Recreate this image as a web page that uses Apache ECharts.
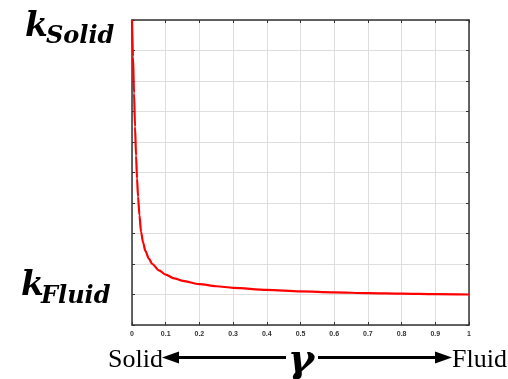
<!DOCTYPE html>
<html>
<head>
<meta charset="utf-8">
<script src="https://cdn.jsdelivr.net/npm/echarts@6/dist/echarts.min.js"></script>
<style>
  html, body { margin: 0; padding: 0; background: #fff; }
  #chart { width: 508px; height: 379px; }
</style>
</head>
<body>
<div id="chart"></div>
<script>
// gamma (x) and conductivity k (y, k_Fluid = 1, k_Solid = 10)
const gammaValues = [0, 0.003, 0.006, 0.009, 0.012, 0.015, 0.018, 0.022, 0.027, 0.033, 0.04, 0.05, 0.06, 0.08, 0.1,
  0.125, 0.15, 0.2, 0.25, 0.3, 0.4, 0.5, 0.6, 0.7, 0.8, 0.9, 1];
const kValues = [10, 8.8, 7.6, 6.5, 5.55, 4.8, 4.2, 3.6, 3.05, 2.7, 2.42, 2.18, 2.0, 1.79, 1.65,
  1.53, 1.45, 1.34, 1.27, 1.22, 1.15, 1.1, 1.07, 1.045, 1.03, 1.015, 1.0];
const xTickLabels = ['0', '0.1', '0.2', '0.3', '0.4', '0.5', '0.6', '0.7', '0.8', '0.9', '1'];

const chart = echarts.init(document.getElementById('chart'));

const axisLine = { show: true, onZero: false, lineStyle: { color: '#333', width: 1.5 } };
const axisTick = { show: true, inside: true, length: 3, lineStyle: { color: '#333', width: 1 } };
const splitLine = { show: true, lineStyle: { color: '#dedede', width: 1 } };

const option = {
  animation: false,
  grid: { left: 132, right: 39, top: 20, bottom: 54 },
  xAxis: [
    {
      type: 'value', min: 0, max: 1, interval: 0.1, position: 'bottom',
      axisLine, axisTick, splitLine,
      axisLabel: {
        margin: 6,
        fontSize: 7,
        fontWeight: 'bold',
        fontFamily: 'Liberation Sans',
        color: '#333',
        formatter: v => xTickLabels[Math.round(v * 10)]
      }
    },
    {
      type: 'value', min: 0, max: 1, interval: 0.1, position: 'top',
      axisLine, axisTick, splitLine: { show: false }, axisLabel: { show: false }
    }
  ],
  yAxis: [
    {
      type: 'value', min: 0, max: 10, interval: 1, position: 'left',
      axisLine, axisTick, splitLine, axisLabel: { show: false }
    },
    {
      type: 'value', min: 0, max: 10, interval: 1, position: 'right',
      axisLine, axisTick, splitLine: { show: false }, axisLabel: { show: false }
    }
  ],
  series: [
    {
      type: 'line',
      data: gammaValues.map((g, i) => [g, kValues[i]]),
      showSymbol: false,
      smooth: 0.3,
      smoothMonotone: 'x',
      lineStyle: { color: '#ff0000', width: 2.2 }
    }
  ],
  graphic: [
    // k_Solid
    { type: 'text', style: { text: 'k', x: 25, y: 27, textVerticalAlign: 'middle',
      font: 'italic bold 33px "DejaVu Serif"', fill: '#000' } },
    { type: 'text', style: { text: 'Solid', x: 46, y: 37, textVerticalAlign: 'middle',
      font: 'italic bold 24px "DejaVu Serif"', fill: '#000' } },
    // k_Fluid
    { type: 'text', style: { text: 'k', x: 21, y: 286, textVerticalAlign: 'middle',
      font: 'italic bold 33px "DejaVu Serif"', fill: '#000' } },
    { type: 'text', style: { text: 'Fluid', x: 41, y: 297, textVerticalAlign: 'middle',
      font: 'italic bold 24px "DejaVu Serif"', fill: '#000' } },
    // bottom annotation
    { type: 'text', style: { text: 'Solid', x: 108, y: 360, textVerticalAlign: 'middle',
      font: '26px "Liberation Serif"', fill: '#000' } },
    { type: 'text', style: { text: 'Fluid', x: 452, y: 360, textVerticalAlign: 'middle',
      font: '26px "Liberation Serif"', fill: '#000' } },
    { type: 'text', style: { text: 'γ', x: 301, y: 362, textAlign: 'center', textVerticalAlign: 'middle',
      font: 'italic bold 40px "DejaVu Serif"', fill: '#000' } },
    { type: 'line', shape: { x1: 176, y1: 357.5, x2: 286, y2: 357.5 }, style: { stroke: '#000', lineWidth: 3 } },
    { type: 'polygon', shape: { points: [[162, 357.5], [179, 351.5], [179, 363.5]] }, style: { fill: '#000' } },
    { type: 'line', shape: { x1: 318, y1: 357.5, x2: 438, y2: 357.5 }, style: { stroke: '#000', lineWidth: 3 } },
    { type: 'polygon', shape: { points: [[452, 357.5], [435, 351.5], [435, 363.5]] }, style: { fill: '#000' } }
  ]
};

chart.setOption(option);
</script>
</body>
</html>
